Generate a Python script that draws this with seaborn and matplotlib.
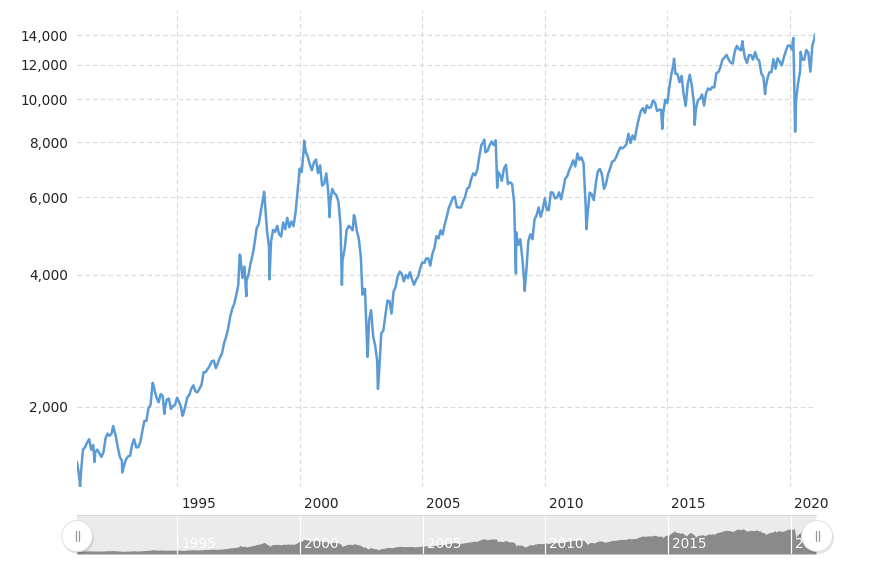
import matplotlib
matplotlib.use("Agg")
import matplotlib.pyplot as plt
import matplotlib.dates as mdates
import matplotlib.transforms as mtransforms
from matplotlib.ticker import FixedLocator, FuncFormatter, NullLocator
from matplotlib.patches import Circle
import seaborn as sns
import pandas as pd

# month-end index values (Dec 1990 .. Dec 2020)
month_end_values = [
    1400,
    1430, 1600, 1620, 1660, 1690, 1600, 1640, 1580, 1600, 1570, 1540, 1580,  # 1991
    1700, 1740, 1720, 1740, 1790, 1720, 1620, 1540, 1510, 1470, 1520, 1545,  # 1992
    1550, 1640, 1690, 1620, 1620, 1660, 1760, 1860, 1860, 1990, 2020, 2260,  # 1993
    2180, 2100, 2050, 2140, 2120, 1980, 2080, 2090, 1980, 2010, 2020, 2100,  # 1994
    2050, 2000, 1920, 2000, 2100, 2130, 2200, 2240, 2170, 2160, 2200, 2250,  # 1995
    2400, 2400, 2440, 2480, 2540, 2550, 2450, 2520, 2590, 2650, 2790, 2890,  # 1996
    3020, 3200, 3340, 3430, 3590, 3790, 4400, 3930, 4170, 3880, 4000, 4250,  # 1997
    4440, 4710, 5100, 5200, 5560, 5900, 5870, 5050, 4630, 4750, 5050, 5000,  # 1998
    5160, 4940, 4880, 5250, 5070, 5380, 5120, 5280, 5150, 5530, 6160, 6960,  # 1999
    6840, 7640, 7600, 7410, 7110, 6900, 7190, 7300, 6800, 7080, 6370, 6430,  # 2000
    6790, 6210, 5830, 6260, 6120, 6060, 5860, 5190, 4310, 4560, 5040, 5160,  # 2001
    5110, 5040, 5400, 5040, 4820, 4380, 3700, 3710, 2770, 3150, 3320, 2890,  # 2002
    2750, 2550, 2420, 2940, 2980, 3220, 3490, 3480, 3260, 3660, 3750, 3960,  # 2003
    4060, 4020, 3860, 3990, 3920, 4050, 3900, 3790, 3890, 3960, 4130, 4260,  # 2004
    4250, 4350, 4350, 4190, 4460, 4590, 4890, 4830, 5040, 4930, 5190, 5410,  # 2005
    5670, 5800, 5970, 6010, 5690, 5680, 5680, 5860, 6000, 6270, 6310, 6600,  # 2006
    6790, 6720, 6920, 7410, 7880, 8010, 7580, 7640, 7860, 8020, 7870, 8070,  # 2007
    6850, 6750, 6530, 6950, 7100, 6420, 6480, 6420, 5830, 4990, 4670, 4810,  # 2008
    4340, 3840, 4080, 4770, 4940, 4810, 5330, 5460, 5680, 5410, 5620, 5960,  # 2009
    5610, 5600, 6150, 6140, 5960, 5970, 6150, 5930, 6230, 6600, 6690, 6910,  # 2010
    7080, 7270, 7040, 7510, 7290, 7380, 7160, 5780, 5500, 6140, 6090, 5900,  # 2011
    6460, 6860, 6950, 6760, 6260, 6420, 6770, 6970, 7220, 7260, 7400, 7610,  # 2012
    7780, 7740, 7800, 7910, 8350, 7960, 8280, 8100, 8590, 9030, 9400, 9550,  # 2013
    9310, 9690, 9560, 9600, 9940, 9830, 9410, 9470, 9470, 9330, 9980, 9810,  # 2014
    10690, 11400, 11970, 11450, 11410, 10940, 11310, 10260, 9660, 10850, 11380, 10740,  # 2015
    9800, 9500, 9960, 10040, 10260, 9680, 10340, 10590, 10510, 10670, 10640, 11480,  # 2016
    11540, 11830, 12310, 12440, 12620, 12330, 12120, 12060, 12830, 13230, 13020, 12920,  # 2017
    13190, 12440, 12100, 12610, 12600, 12310, 12810, 12360, 12250, 11450, 11260, 10560,  # 2018
    11170, 11520, 11530, 12340, 11730, 12400, 12190, 11940, 12430, 12870, 13240, 13250,  # 2019
    12980, 11890, 9940, 10860, 11590, 12310, 12310, 12950, 12760, 11560, 13290, 13720,  # 2020
]

# intra-month highs and lows visible as spikes
spike_dates = [
    "1990-12-01", "1991-01-16", "1991-08-19", "1992-05-22", "1992-10-05",
    "1994-01-04", "1994-06-24", "1995-03-20", "1997-07-21", "1997-10-28",
    "1998-07-20", "1998-10-08", "2000-03-07", "2001-03-22", "2001-09-21",
    "2002-03-19", "2002-07-24", "2002-10-09", "2003-03-12", "2007-07-13",
    "2008-01-22", "2008-10-27", "2009-03-06", "2011-05-02", "2011-09-12",
    "2014-10-16", "2015-04-10", "2016-02-11", "2018-01-23", "2018-12-27",
    "2020-02-19", "2020-03-18", "2020-06-08", "2021-01-07",
]
spike_values = [
    1500, 1320, 1500, 1810, 1420,
    2270, 1930, 1910, 4440, 3570,
    6170, 3900, 8060, 5400, 3790,
    5460, 3600, 2600, 2200, 8100,
    6300, 4020, 3670, 7530, 5070,
    8570, 12370, 8750, 13560, 10280,
    13790, 8440, 12820, 14050,
]

y_ticks = [2000, 4000, 6000, 8000, 10000, 12000, 14000]
label_years = [1995, 2000, 2005, 2010, 2015, 2020]

monthly = pd.DataFrame({
    "date": pd.date_range("1990-12-31", periods=len(month_end_values), freq="ME"),
    "value": month_end_values,
})
spikes = pd.DataFrame({"date": pd.to_datetime(spike_dates), "value": spike_values})
df = pd.concat([monthly, spikes]).sort_values("date").reset_index(drop=True)

sns.set_style("white")
plt.rcParams["font.family"] = ["DejaVu Sans"]

W, H = 869, 584
fig = plt.figure(figsize=(W / 100, H / 100), dpi=100)


def px_axes(x0, y0, x1, y1):
    return fig.add_axes([x0 / W, 1 - y1 / H, (x1 - x0) / W, (y1 - y0) / H])


line_color = "#5b9bd5"
grid_color = "#d9d9d9"
text_color = "#222222"
x_lo, x_hi = pd.Timestamp("1990-12-01"), pd.Timestamp("2021-01-08")

# main chart
ax = px_axes(77, 10, 815, 487)
sns.lineplot(data=df, x="date", y="value", ax=ax, color=line_color,
             linewidth=1.8, estimator=None)
ax.set_yscale("log")
ax.set_ylim(1316, 15960)
ax.set_xlim(x_lo, x_hi)
ax.yaxis.set_major_locator(FixedLocator(y_ticks))
ax.yaxis.set_minor_locator(NullLocator())
ax.yaxis.set_major_formatter(FuncFormatter(lambda v, p: f"{v:,.0f}"))
ax.xaxis.set_major_locator(FixedLocator([mdates.date2num(pd.Timestamp(f"{y}-01-01")) for y in label_years]))
ax.xaxis.set_major_formatter(mdates.DateFormatter("%Y"))
ax.set_xlabel("")
ax.set_ylabel("")
ax.grid(True, which="major", color=grid_color, linestyle=(0, (4, 3)), linewidth=0.8)
for s in ax.spines.values():
    s.set_visible(False)
ax.tick_params(axis="both", length=0, labelsize=9.8, labelcolor=text_color)
ax.tick_params(axis="y", pad=6.5)
ax.tick_params(axis="x", pad=7.5)
shift = mtransforms.ScaledTranslation(4 / 100, 0, fig.dpi_scale_trans)
for lbl in ax.get_xticklabels():
    lbl.set_horizontalalignment("left")
    lbl.set_transform(lbl.get_transform() + shift)

# navigator strip
nav = px_axes(77, 515, 816, 554)
nav.set_facecolor("#ebebeb")
nav.fill_between(df["date"], df["value"], 0, color="#8a8a8a", linewidth=0)
nav.set_xlim(x_lo, x_hi)
nav.set_ylim(0, 20700)
nav.set_xticks([])
nav.set_yticks([])
for name, s in nav.spines.items():
    s.set_visible(name == "top")
nav.spines["top"].set_color("#d8d8d8")
nav.spines["top"].set_linewidth(0.8)
nav_tr = mtransforms.blended_transform_factory(nav.transData, nav.transAxes)
for y in label_years:
    d = pd.Timestamp(f"{y}-01-01")
    nav.axvline(d, color="white", linewidth=0.9)
    nav.text(d, 0.26, str(y), transform=nav_tr + shift, color="white",
             fontsize=9.8, ha="left", va="center")

# navigator handles
over = fig.add_axes([0, 0, 1, 1])
over.set_xlim(0, W)
over.set_ylim(H, 0)
over.axis("off")
for cx in (77, 817):
    over.add_patch(Circle((cx + 1, 538), 16, fc="black", alpha=0.10, lw=0))
    over.add_patch(Circle((cx, 536), 15.5, fc="white", ec="#dddddd", lw=0.6))
    for dx in (-1.5, 1.5):
        over.plot([cx + dx, cx + dx], [531, 541], color="#9a9a9a", linewidth=0.9)

fig.savefig("out.png", dpi=100)
